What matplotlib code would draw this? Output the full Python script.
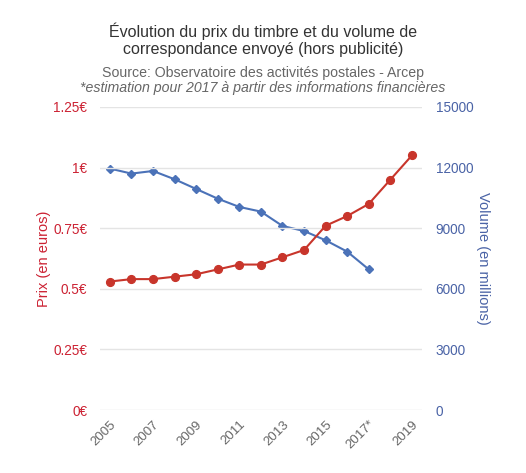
import matplotlib
matplotlib.use("Agg")
import matplotlib.pyplot as plt

plt.rcParams['font.family'] = ['Liberation Sans', 'DejaVu Sans']

years = [2005, 2006, 2007, 2008, 2009, 2010, 2011, 2012, 2013, 2014, 2015, 2016, 2017, 2018, 2019]
price = [0.53, 0.54, 0.54, 0.55, 0.56, 0.58, 0.60, 0.60, 0.63, 0.66, 0.76, 0.80, 0.85, 0.95, 1.05]
vol_years = [2005, 2006, 2007, 2008, 2009, 2010, 2011, 2012, 2013, 2014, 2015, 2016, 2017]
volume = [11950, 11700, 11830, 11420, 10940, 10460, 10050, 9820, 9110, 8860, 8400, 7840, 6960]
xtick_pos = [2005, 2007, 2009, 2011, 2013, 2015, 2017, 2019]
xtick_labels = ['2005', '2007', '2009', '2011', '2013', '2015', '2017*', '2019']
left_ticks = [0, 0.25, 0.5, 0.75, 1.0, 1.25]
left_labels = ['0€', '0.25€', '0.5€', '0.75€', '1€', '1.25€']
right_ticks = [0, 3000, 6000, 9000, 12000, 15000]

RED = '#c8352b'
RED_T = '#cc2233'
BLUE = '#4b72b8'
BLUE_T = '#4a63a6'
GRAY = '#666666'

fig = plt.figure(figsize=(5.26, 4.73), dpi=100)
ax = fig.add_axes([0.19, 0.133, 0.612, 0.641])
ax2 = ax.twinx()

ax.set_zorder(2)
ax.patch.set_visible(False)

ax.plot(years, price, color=RED, lw=1.5, marker='o', ms=5.6, zorder=3)
ax2.plot(vol_years, volume, color=BLUE, lw=1.5, marker='D', ms=3.6, zorder=3)

ax.set_xlim(2004.54, 2019.46)
ax.set_ylim(0, 1.25)
ax2.set_ylim(0, 15000)

ax.set_yticks(left_ticks)
ax.set_yticklabels(left_labels)
ax2.set_yticks(right_ticks)
ax2.set_yticklabels([str(t) for t in right_ticks])
ax.set_xticks(xtick_pos)
ax.set_xticklabels(xtick_labels, rotation=45, ha='right', rotation_mode='anchor')

for a in (ax, ax2):
    for s in a.spines.values():
        s.set_visible(False)
ax.tick_params(axis='y', length=0, pad=9, labelsize=9.8, labelcolor=RED_T)
ax2.tick_params(axis='y', length=0, pad=10, labelsize=9.8, labelcolor=BLUE_T)
ax.tick_params(axis='x', length=0, pad=6, labelsize=9.5, labelcolor=GRAY)
ax2.tick_params(axis='x', length=0)

ax.grid(axis='y', color='#e4e4e4', lw=1)
ax.set_axisbelow(True)

ax.set_ylabel('Prix (en euros)', color=RED_T, fontsize=10.5, labelpad=1.5)
ax2.set_ylabel('Volume (en millions)', color=BLUE_T, fontsize=10.5, rotation=270, labelpad=12)

fig.text(0.5, 1 - 40/473, 'Évolution du prix du timbre et du volume de\ncorrespondance envoyé (hors publicité)',
         ha='center', va='center', fontsize=11.5, color='#333333', linespacing=1.2)
fig.text(0.5, 1 - 73/473, 'Source: Observatoire des activités postales - Arcep',
         ha='center', va='center', fontsize=10.2, color='#666666')
fig.text(0.5, 1 - 88/473, '*estimation pour 2017 à partir des informations financières',
         ha='center', va='center', fontsize=10.2, color='#666666', style='italic')

fig.savefig('out.png', dpi=100)
